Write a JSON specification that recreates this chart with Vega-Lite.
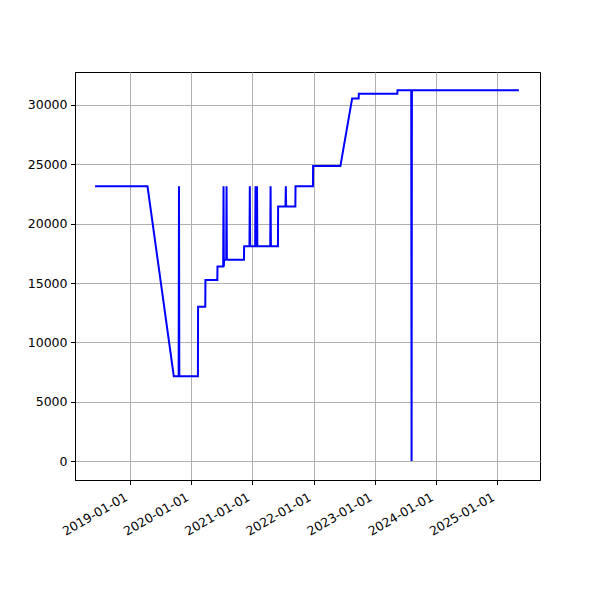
{
  "$schema": "https://vega.github.io/schema/vega-lite/v6.json",
  "width": 465,
  "height": 408,
  "autosize": {"type": "none"},
  "padding": {"left": 75, "top": 72, "right": 60, "bottom": 120},
  "background": "white",
  "config": {
    "view": {"stroke": "black", "strokeWidth": 1},
    "axis": {
      "labelFont": "DejaVu Sans",
      "labelFontSize": 12.5,
      "labelColor": "black",
      "domainColor": "black",
      "tickColor": "black",
      "tickSize": 4.5,
      "labelPadding": 3.5,
      "gridColor": "#b0b0b0",
      "gridWidth": 1,
      "gridOpacity": 1,
      "title": null
    }
  },
  "data": {
    "values": [
      {"date": "2018-06-06", "value": 23150},
      {"date": "2019-04-15", "value": 23150},
      {"date": "2019-09-19", "value": 7150},
      {"date": "2019-10-18", "value": 7150},
      {"date": "2019-10-20", "value": 23150},
      {"date": "2019-10-22", "value": 7150},
      {"date": "2020-02-10", "value": 7150},
      {"date": "2020-02-11", "value": 13000},
      {"date": "2020-03-25", "value": 13000},
      {"date": "2020-03-26", "value": 15250},
      {"date": "2020-06-05", "value": 15250},
      {"date": "2020-06-06", "value": 16400},
      {"date": "2020-07-10", "value": 16400},
      {"date": "2020-07-12", "value": 23150},
      {"date": "2020-07-14", "value": 16400},
      {"date": "2020-07-14", "value": 16400},
      {"date": "2020-07-15", "value": 16950},
      {"date": "2020-07-28", "value": 16950},
      {"date": "2020-07-30", "value": 23150},
      {"date": "2020-08-01", "value": 16950},
      {"date": "2020-11-11", "value": 16950},
      {"date": "2020-11-12", "value": 18100},
      {"date": "2020-12-14", "value": 18100},
      {"date": "2020-12-16", "value": 23150},
      {"date": "2020-12-18", "value": 18100},
      {"date": "2021-01-17", "value": 18100},
      {"date": "2021-01-19", "value": 23150},
      {"date": "2021-01-21", "value": 18100},
      {"date": "2021-01-26", "value": 18100},
      {"date": "2021-01-28", "value": 23150},
      {"date": "2021-01-30", "value": 18100},
      {"date": "2021-04-17", "value": 18100},
      {"date": "2021-04-19", "value": 23150},
      {"date": "2021-04-21", "value": 18100},
      {"date": "2021-06-02", "value": 18100},
      {"date": "2021-06-03", "value": 21450},
      {"date": "2021-07-17", "value": 21450},
      {"date": "2021-07-19", "value": 23150},
      {"date": "2021-07-21", "value": 21450},
      {"date": "2021-09-14", "value": 21450},
      {"date": "2021-09-15", "value": 23150},
      {"date": "2021-12-28", "value": 23150},
      {"date": "2021-12-29", "value": 24850},
      {"date": "2022-06-10", "value": 24850},
      {"date": "2022-08-19", "value": 30550},
      {"date": "2022-09-27", "value": 30550},
      {"date": "2022-09-28", "value": 30950},
      {"date": "2023-05-16", "value": 30950},
      {"date": "2023-05-17", "value": 31250},
      {"date": "2023-08-07", "value": 31250},
      {"date": "2023-08-09", "value": 0},
      {"date": "2023-08-11", "value": 31250},
      {"date": "2025-05-11", "value": 31250}
    ]
  },
  "mark": {"type": "line", "color": "#0000ff", "strokeWidth": 2, "clip": true},
  "encoding": {
    "x": {
      "field": "date",
      "type": "temporal",
      "scale": {
        "type": "utc",
        "domain": [
          {"year": 2018, "month": 2, "date": 6, "utc": true},
          {"year": 2025, "month": 9, "date": 14, "utc": true}
        ]
      },
      "axis": {
        "format": "%Y-%m-%d",
        "tickCount": {"interval": "year", "step": 1},
        "labelAngle": -30,
        "labelAlign": "right",
        "labelBaseline": "top",
        "labelOffset": -7,
        "labelPadding": 6,
        "labelOverlap": false,
        "labelBound": false,
        "labelFlush": false
      }
    },
    "y": {
      "field": "value",
      "type": "quantitative",
      "scale": {"domain": [-1600, 32780], "nice": false, "zero": false},
      "axis": {"values": [0, 5000, 10000, 15000, 20000, 25000, 30000], "format": "d"}
    }
  }
}
